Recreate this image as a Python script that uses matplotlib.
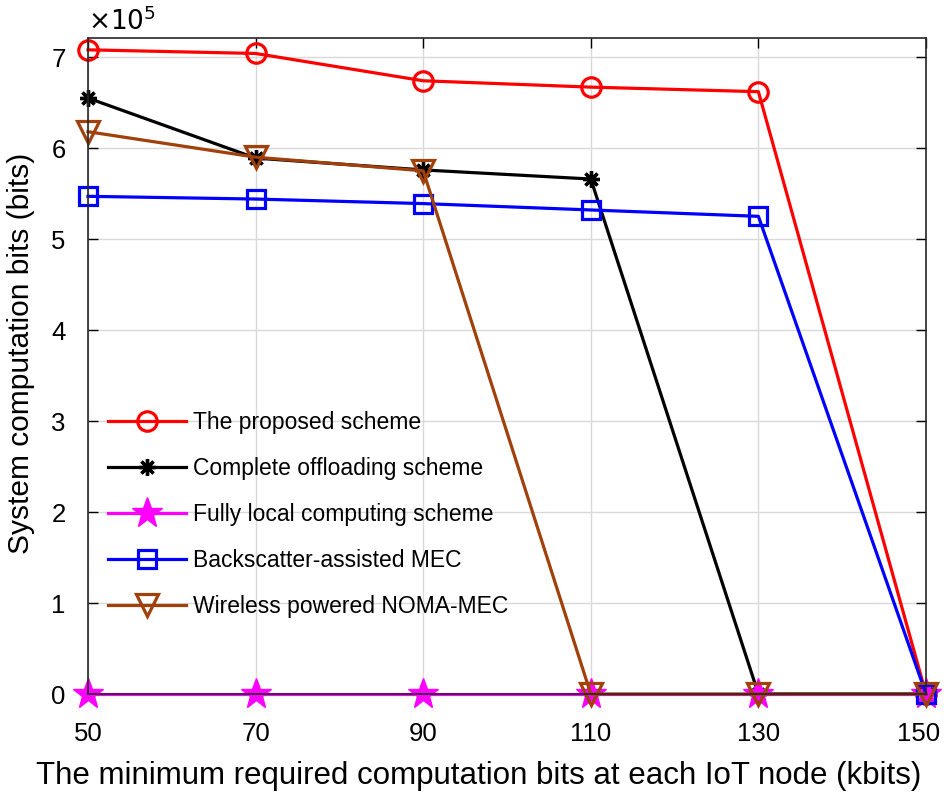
import numpy as np
from matplotlib import pyplot as plt
from matplotlib.transforms import ScaledTranslation

plt.rcParams['font.family'] = ['Liberation Sans', 'DejaVu Sans']

"DATA"
x_bits = [50, 70, 90, 110, 130, 150]
proposed = [7.08, 7.04, 6.74, 6.67, 6.62, 0.0]
complete_off = [6.55, 5.89, 5.76, 5.66, 0.0, 0.0]
fully_local = [0.0, 0.0, 0.0, 0.0, 0.0, 0.0]
backscatter = [5.47, 5.44, 5.39, 5.32, 5.25, 0.0]
noma_mec = [6.18, 5.90, 5.75, 0.0, 0.0, 0.0]
xticks = [50, 70, 90, 110, 130, 150]
yticks = [0, 1, 2, 3, 4, 5, 6, 7]

fig = plt.figure(figsize=(9.44, 7.95), dpi=100)
ax = fig.add_axes([88/944, 1-694/795, 838/944, 656/795])

lw = 2.3
ax.plot(x_bits, proposed, color='red', lw=lw, marker='o', ms=14, mfc='none', mew=2.3,
        label='The proposed scheme', clip_on=False)
ax.plot(x_bits, complete_off, color='black', lw=lw, marker=(8, 2, 0), ms=12, mew=2.4,
        label='Complete offloading scheme', clip_on=False)
ax.plot(x_bits, fully_local, color='#ff00ff', lw=lw, marker='*', ms=23,
        label='Fully local computing scheme', clip_on=False)
ax.plot(x_bits, backscatter, color='blue', lw=lw, marker='s', ms=12.5, mfc='none', mew=2.3,
        label='Backscatter-assisted MEC', clip_on=False)
ax.plot(x_bits, noma_mec, color='#a0400a', lw=lw, marker='v', ms=16, mfc='none', mew=2.3,
        label='Wireless powered NOMA-MEC', clip_on=False)

ax.set_xlim(50, 150)
ax.set_ylim(0, 7.21)
ax.set_xticks(xticks)
ax.set_yticks(yticks)
ax.tick_params(direction='in', top=True, right=True, labelsize=18.5, length=7, width=1)
ax.tick_params(axis='x', pad=20)
ax.tick_params(axis='y', pad=16)
ax.grid(True, color='#d9d9d9', lw=1)
ax.set_axisbelow(True)
for s in ax.spines.values():
    s.set_linewidth(1.2)
    s.set_color('#262626')

# nudge the last x tick label so it stays inside the figure
last = ax.get_xticklabels()[-1]
last.set_transform(last.get_transform() + ScaledTranslation(-5/72, 0, fig.dpi_scale_trans))

ax.set_xlabel('The minimum required computation bits at each IoT node (kbits)', fontsize=22.5)
ax.set_ylabel('System computation bits (bits)', fontsize=21.5)
ax.xaxis.set_label_coords(0.466, -0.102)
ax.yaxis.set_label_coords(-0.063, 0.52)
ax.text(0.0, 1.005, r'$\times10^{5}$', transform=ax.transAxes, fontsize=19, va='bottom', ha='left')

ax.legend(loc='upper left', bbox_to_anchor=(0.013, 0.445), frameon=False, fontsize=16.5,
          handlelength=3.4, handletextpad=0.3, labelspacing=1.0, borderaxespad=0)

fig.savefig('out.png', dpi=100)
